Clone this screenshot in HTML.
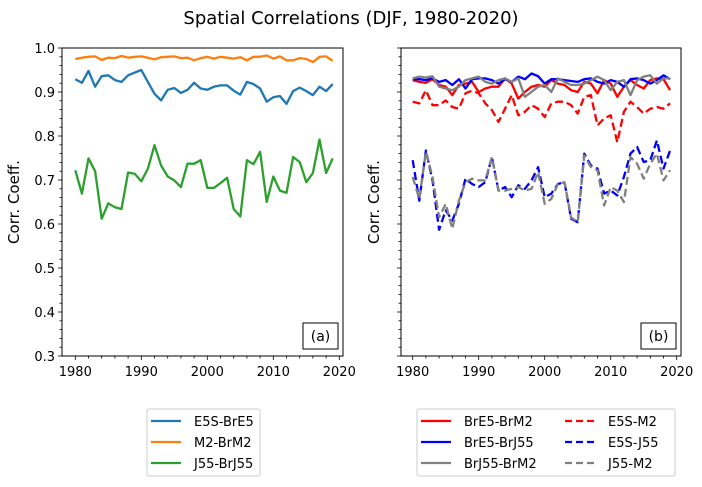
<!DOCTYPE html>
<html><head><meta charset="utf-8"><style>
body{margin:0;background:#fff}
svg{display:block;font-family:"DejaVu Sans","Liberation Sans",sans-serif}
</style></head><body>
<svg id="fig" width="702" height="487" viewBox="0 0 702 487">
<text x="351" y="24" font-size="18" text-anchor="middle">Spatial Correlations (DJF, 1980-2020)</text>
<g id="pa"></g>
<g id="pb"></g>
</svg>
<script>
const years = Array.from({length:40},(_,i)=>1980+i);
const e5sBrE5 = [0.929,0.921,0.948,0.912,0.936,0.938,0.927,0.923,0.938,0.944,0.950,0.923,0.896,0.881,0.905,0.909,0.898,0.905,0.921,0.908,0.905,0.912,0.915,0.915,0.903,0.894,0.923,0.918,0.908,0.878,0.888,0.891,0.873,0.902,0.910,0.902,0.893,0.912,0.902,0.918];
const m2BrM2 = [0.975,0.978,0.980,0.981,0.973,0.978,0.977,0.982,0.978,0.980,0.981,0.978,0.974,0.979,0.980,0.981,0.977,0.978,0.972,0.977,0.980,0.976,0.980,0.978,0.976,0.979,0.972,0.980,0.980,0.983,0.976,0.981,0.972,0.972,0.977,0.975,0.968,0.980,0.981,0.971];
const j55BrJ55 = [0.722,0.669,0.749,0.720,0.612,0.647,0.638,0.634,0.717,0.714,0.697,0.726,0.779,0.733,0.708,0.699,0.684,0.737,0.737,0.745,0.682,0.682,0.693,0.705,0.634,0.617,0.745,0.736,0.764,0.650,0.708,0.676,0.671,0.752,0.741,0.695,0.716,0.792,0.716,0.749];
const brE5BrJ55Z = [118,118,120,115,125,120,135,118,145,118,115,115,120,130,118,125,110,118,100,108,130,118,118,120,122,125,118,115,125,130,120,125,140,118,115,120,130,120,105,118];
const brE5BrM2Z = [120,125,128,118,135,140,165,135,130,125,155,145,140,140,115,130,175,155,140,135,140,120,130,135,150,155,125,130,160,120,130,170,140,120,135,145,120,115,118,150];
const brJ55BrM2Z = [115,110,112,108,140,145,150,140,120,115,110,125,130,120,115,125,115,170,155,140,135,155,115,125,135,135,130,120,110,120,150,125,120,165,120,110,105,130,115,115];
const e5sM2Z = [185,190,150,195,195,180,200,205,160,152,160,190,210,245,205,165,225,215,195,205,230,190,185,185,195,220,170,165,255,235,225,305,215,185,200,220,205,200,205,190];
const e5sJ55Z = [60,180,30,120,268,210,240,190,115,130,140,125,50,150,140,170,135,145,120,80,170,160,130,125,235,245,40,75,85,160,150,165,110,40,20,65,60,0,85,30];
const j55M2Z = [110,175,35,110,230,190,265,180,125,115,120,120,50,150,150,145,140,150,145,95,190,175,130,125,230,245,45,80,90,195,140,150,185,50,70,115,70,40,120,90];
const upper = z=>+(1.0182-z*0.00076).toFixed(3);
const lower = z=>+(0.7902-z*0.00076).toFixed(3);
const brE5BrJ55 = brE5BrJ55Z.map(upper), brE5BrM2 = brE5BrM2Z.map(upper), brJ55BrM2 = brJ55BrM2Z.map(upper), e5sM2 = e5sM2Z.map(upper);
const e5sJ55 = e5sJ55Z.map(lower), j55M2 = j55M2Z.map(lower);
const yTicks = [0.3,0.4,0.5,0.6,0.7,0.8,0.9,1.0];
const xTicks = [1980,1990,2000,2010,2020];

const NS="http://www.w3.org/2000/svg";
function mk(p,t,a){const e=document.createElementNS(NS,t);for(const k in a)e.setAttribute(k,a[k]);p.appendChild(e);return e;}
const Y0=356,Y1=48;
const yS=v=>Y0-(v-0.3)/0.7*(Y0-Y1);

function panel(g,L,R,x1980,showY,tag,series,boxX){
  const xS=yr=>x1980+(yr-1980)*6.6;
  for(let v=0.3;v<=1.0001;v+=0.02){const y=yS(v);const major=Math.abs(v*10-Math.round(v*10))<1e-6;
    const t=mk(g,'line',{x1:L,x2:L-(major?4:2.5),y1:y,y2:y,stroke:'#000','stroke-width':0.8});
    }
  if(showY){yTicks.forEach(v=>{const t=mk(g,'text',{x:L-7,y:yS(v)+5,'font-size':13,'text-anchor':'end'});t.textContent=v.toFixed(1);
    });}
  for(let yr=1980;yr<=2020;yr+=2){const x=xS(yr);const major=yr%10==0;
    const t=mk(g,'line',{x1:x,x2:x,y1:Y0,y2:Y0+(major?4:2.5),stroke:'#000','stroke-width':0.8});
    }
  xTicks.forEach(yr=>{const t=mk(g,'text',{x:xS(yr),y:Y0+20,'font-size':13,'text-anchor':'middle'});t.textContent=yr;
    });
  const yl=mk(g,'text',{x:0,y:0,'font-size':15,'text-anchor':'middle',transform:`translate(${L-(showY?43:22)},${(Y0+Y1)/2}) rotate(-90)`});
  yl.textContent='Corr. Coeff.';
  
  const cp=mk(g,'clipPath',{id:'c'+tag});mk(cp,'rect',{x:L,y:Y1,width:R-L,height:Y0-Y1});
  series.forEach(s=>{const pts=years.map((yr,i)=>xS(yr).toFixed(1)+','+yS(s.d[i]).toFixed(1)).join(' ');
    const a={points:pts,fill:'none',stroke:s.c,'stroke-width':2.3,'stroke-linejoin':'round','clip-path':`url(#c${tag})`};
    if(s.dash)a['stroke-dasharray']='8,4';
    const p=mk(g,'polyline',a);});
  const fr=mk(g,'rect',{x:L,y:Y1,width:R-L,height:Y0-Y1,fill:'none',stroke:'#000','stroke-width':1});
  
  const b=mk(g,'rect',{x:boxX,y:323,width:35,height:26,fill:'#fff',stroke:'#000','stroke-width':1});
  
  const bt=mk(g,'text',{x:boxX+17.5,y:341,'font-size':14,'text-anchor':'middle'});bt.textContent='('+tag+')';
  
}
panel(document.getElementById('pa'),62,343,75.3,true,'a',[
 {n:'e5s-bre5',d:e5sBrE5,c:'#1f77b4'},{n:'m2-brm2',d:m2BrM2,c:'#ff7f0e'},{n:'j55-brj55',d:j55BrJ55,c:'#2ca02c'}],303);
panel(document.getElementById('pb'),401,681,412.7,false,'b',[
 {n:'bre5-brm2',d:brE5BrM2,c:'#ff0000'},{n:'bre5-brj55',d:brE5BrJ55,c:'#0000ff'},{n:'brj55-brm2',d:brJ55BrM2,c:'#808080'},
 {n:'e5s-m2',d:e5sM2,c:'#ff0000',dash:1},{n:'e5s-j55',d:e5sJ55,c:'#0000ff',dash:1},{n:'j55-m2',d:j55M2,c:'#808080',dash:1}],641);

function legend(x,y,w,entries){
  const svg=document.getElementById('fig');
  const g=mk(svg,'g',{});
  mk(g,'rect',{x:x,y:y,width:w,height:67,rx:2,fill:'#fff',stroke:'#ccc','stroke-width':1});
  entries.forEach(e=>{const a={x1:e.x,x2:e.x+30,y1:e.y,y2:e.y,stroke:e.c,'stroke-width':2.3};if(e.dash)a['stroke-dasharray']='7,4';
    const l=mk(g,'line',a);
    const t=mk(g,'text',{x:e.x+43,y:e.y+5,'font-size':13});t.textContent=e.t;
    });
}
legend(147,409,113,[{x:151,y:421,c:'#1f77b4',t:'E5S-BrE5'},{x:151,y:442,c:'#ff7f0e',t:'M2-BrM2'},{x:151,y:463,c:'#2ca02c',t:'J55-BrJ55'}]);
legend(417,409,258,[{x:421,y:421,c:'#ff0000',t:'BrE5-BrM2'},{x:421,y:442,c:'#0000ff',t:'BrE5-BrJ55'},{x:421,y:463,c:'#808080',t:'BrJ55-BrM2'},
 {x:565,y:421,c:'#ff0000',t:'E5S-M2',dash:1},{x:565,y:442,c:'#0000ff',t:'E5S-J55',dash:1},{x:565,y:463,c:'#808080',t:'J55-M2',dash:1}]);
</script>
</body></html>
